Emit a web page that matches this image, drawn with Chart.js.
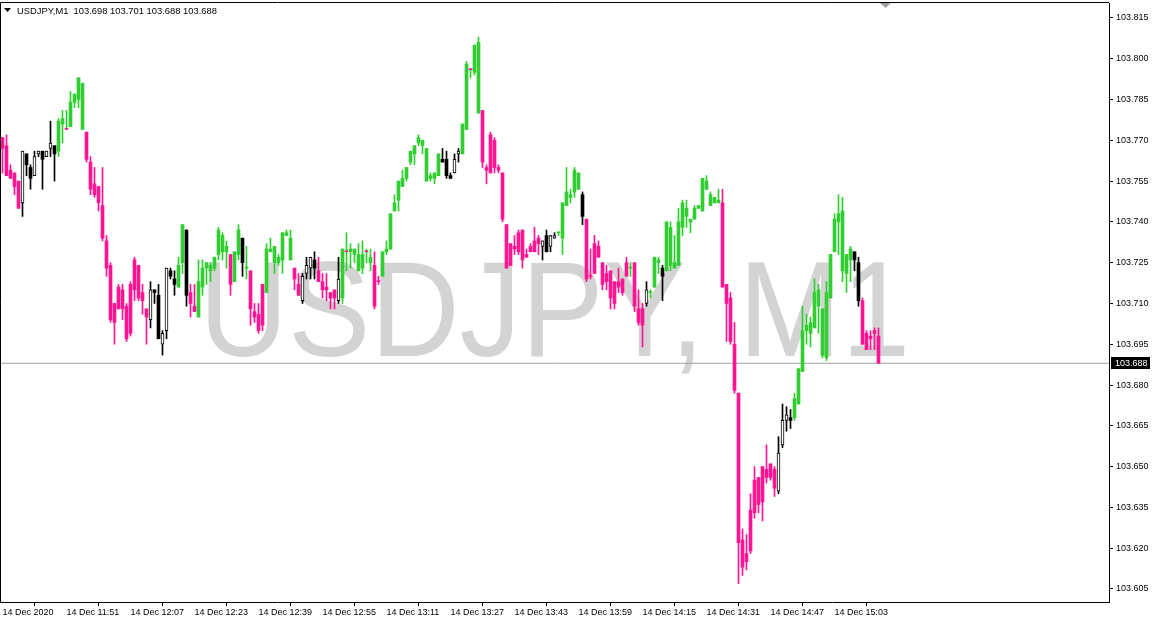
<!DOCTYPE html>
<html>
<head>
<meta charset="utf-8">
<title>USDJPY, M1</title>
<script src="https://cdn.jsdelivr.net/npm/chart.js@4.4.0/dist/chart.umd.min.js"></script>
<style>
  html, body { margin: 0; padding: 0; background: #fff; }
</style>
</head>
<body>
<canvas id="chart" width="1153" height="623"></canvas>
<script>
const symbol = 'USDJPY, M1';
const header = 'USDJPY,M1  103.698 103.701 103.688 103.688';
const lastPrice = 103.688;

const timeLabels = [
  '14 Dec 2020', '14 Dec 11:51', '14 Dec 12:07', '14 Dec 12:23', '14 Dec 12:39',
  '14 Dec 12:55', '14 Dec 13:11', '14 Dec 13:27', '14 Dec 13:43', '14 Dec 13:59',
  '14 Dec 14:15', '14 Dec 14:31', '14 Dec 14:47', '14 Dec 15:03',
];
const priceTicks = [
  103.605, 103.62, 103.635, 103.65, 103.665, 103.68, 103.695, 103.71,
  103.725, 103.74, 103.755, 103.77, 103.785, 103.8, 103.815,
];

// one bar per minute
const open = [
  103.771, 103.768, 103.759, 103.758, 103.755, 103.747, 103.765, 103.760, 103.757, 103.765,
  103.766, 103.764, 103.767, 103.768, 103.766, 103.776, 103.774, 103.775, 103.784, 103.785,
  103.774, 103.773, 103.762, 103.754, 103.753, 103.746, 103.733, 103.724, 103.710, 103.716,
  103.715, 103.709, 103.717, 103.726, 103.724, 103.714, 103.708, 103.704, 103.715, 103.713,
  103.695, 103.700, 103.722, 103.719, 103.716, 103.725, 103.737, 103.714, 103.709, 103.705,
  103.716, 103.723, 103.722, 103.723, 103.728, 103.729, 103.729, 103.728, 103.718, 103.728,
  103.734, 103.723, 103.722, 103.707, 103.706, 103.717, 103.714, 103.729, 103.725, 103.725,
  103.726, 103.735, 103.726, 103.723, 103.717, 103.711, 103.721, 103.723, 103.726, 103.722,
  103.718, 103.716, 103.714, 103.715, 103.711, 103.712, 103.729, 103.729, 103.728, 103.722,
  103.723, 103.729, 103.725, 103.724, 103.718, 103.720, 103.729, 103.730, 103.744, 103.748,
  103.753, 103.756, 103.762, 103.765, 103.769, 103.768, 103.755, 103.756, 103.756, 103.757,
  103.763, 103.763, 103.757, 103.758, 103.765, 103.765, 103.774, 103.796, 103.795, 103.780,
  103.781, 103.760, 103.772, 103.770, 103.760, 103.758, 103.739, 103.732, 103.731, 103.736,
  103.737, 103.728, 103.731, 103.733, 103.734, 103.731, 103.735, 103.731, 103.734, 103.736,
  103.734, 103.746, 103.749, 103.751, 103.752, 103.750, 103.741, 103.720, 103.732, 103.731,
  103.725, 103.721, 103.722, 103.718, 103.718, 103.719, 103.725, 103.723, 103.725, 103.708,
  103.708, 103.710, 103.714, 103.716, 103.725, 103.723, 103.722, 103.724, 103.723, 103.724,
  103.738, 103.742, 103.740, 103.741, 103.745, 103.744, 103.752, 103.746, 103.747, 103.747,
  103.747, 103.717, 103.712, 103.695, 103.677, 103.623, 103.618, 103.634, 103.645, 103.646,
  103.650, 103.649, 103.651, 103.649, 103.641, 103.658, 103.667, 103.668, 103.668, 103.673,
  103.685, 103.700, 103.699, 103.701, 103.709, 103.691, 103.690, 103.712, 103.729, 103.740,
  103.722, 103.721, 103.726, 103.729, 103.725, 103.711, 103.699, 103.698, 103.700, 103.698,
];
const high = [
  103.771, 103.772, 103.761, 103.758, 103.755, 103.766, 103.765, 103.761, 103.766, 103.766,
  103.766, 103.766, 103.777, 103.768, 103.778, 103.781, 103.781, 103.788, 103.787, 103.793,
  103.791, 103.773, 103.764, 103.760, 103.753, 103.760, 103.735, 103.725, 103.710, 103.717,
  103.717, 103.710, 103.718, 103.727, 103.724, 103.717, 103.708, 103.718, 103.715, 103.717,
  103.700, 103.723, 103.723, 103.722, 103.727, 103.739, 103.737, 103.717, 103.717, 103.726,
  103.726, 103.725, 103.725, 103.727, 103.738, 103.736, 103.733, 103.728, 103.729, 103.739,
  103.734, 103.731, 103.722, 103.710, 103.710, 103.717, 103.732, 103.734, 103.731, 103.728,
  103.736, 103.737, 103.737, 103.723, 103.721, 103.721, 103.727, 103.727, 103.729, 103.727,
  103.721, 103.721, 103.714, 103.715, 103.727, 103.730, 103.736, 103.732, 103.730, 103.732,
  103.733, 103.730, 103.730, 103.729, 103.720, 103.729, 103.733, 103.743, 103.750, 103.755,
  103.759, 103.760, 103.766, 103.768, 103.772, 103.770, 103.767, 103.758, 103.758, 103.765,
  103.767, 103.766, 103.758, 103.765, 103.767, 103.776, 103.799, 103.796, 103.805, 103.808,
  103.781, 103.761, 103.773, 103.771, 103.761, 103.758, 103.739, 103.732, 103.735, 103.737,
  103.737, 103.730, 103.732, 103.738, 103.735, 103.733, 103.737, 103.735, 103.736, 103.736,
  103.747, 103.760, 103.752, 103.760, 103.758, 103.751, 103.741, 103.730, 103.735, 103.733,
  103.725, 103.724, 103.722, 103.718, 103.723, 103.719, 103.727, 103.725, 103.725, 103.715,
  103.710, 103.718, 103.715, 103.727, 103.727, 103.724, 103.740, 103.740, 103.735, 103.745,
  103.748, 103.748, 103.741, 103.746, 103.746, 103.756, 103.757, 103.751, 103.749, 103.752,
  103.752, 103.717, 103.714, 103.703, 103.677, 103.627, 103.625, 103.640, 103.650, 103.646,
  103.650, 103.658, 103.651, 103.650, 103.661, 103.673, 103.672, 103.671, 103.677, 103.686,
  103.709, 103.706, 103.705, 103.719, 103.717, 103.708, 103.718, 103.728, 103.743, 103.750,
  103.749, 103.728, 103.731, 103.729, 103.727, 103.712, 103.700, 103.700, 103.701, 103.701,
];
const low = [
  103.758, 103.757, 103.756, 103.750, 103.745, 103.742, 103.757, 103.752, 103.757, 103.764,
  103.752, 103.764, 103.764, 103.755, 103.764, 103.769, 103.774, 103.775, 103.782, 103.782,
  103.774, 103.762, 103.750, 103.749, 103.744, 103.733, 103.720, 103.703, 103.695, 103.708,
  103.704, 103.696, 103.698, 103.711, 103.711, 103.706, 103.695, 103.701, 103.710, 103.697,
  103.691, 103.697, 103.719, 103.713, 103.716, 103.721, 103.709, 103.705, 103.707, 103.705,
  103.713, 103.717, 103.718, 103.722, 103.726, 103.726, 103.723, 103.713, 103.718, 103.726,
  103.720, 103.719, 103.702, 103.703, 103.699, 103.700, 103.714, 103.729, 103.721, 103.724,
  103.721, 103.735, 103.726, 103.715, 103.713, 103.710, 103.719, 103.719, 103.719, 103.718,
  103.712, 103.711, 103.708, 103.708, 103.710, 103.710, 103.722, 103.723, 103.725, 103.722,
  103.721, 103.725, 103.722, 103.708, 103.717, 103.720, 103.728, 103.730, 103.744, 103.744,
  103.753, 103.755, 103.761, 103.761, 103.768, 103.765, 103.755, 103.755, 103.754, 103.757,
  103.762, 103.756, 103.756, 103.758, 103.762, 103.765, 103.774, 103.793, 103.794, 103.780,
  103.760, 103.754, 103.758, 103.758, 103.758, 103.740, 103.723, 103.724, 103.728, 103.728,
  103.723, 103.727, 103.729, 103.729, 103.728, 103.726, 103.729, 103.729, 103.734, 103.735,
  103.728, 103.746, 103.747, 103.749, 103.752, 103.739, 103.718, 103.719, 103.721, 103.727,
  103.715, 103.715, 103.708, 103.708, 103.714, 103.713, 103.720, 103.720, 103.707, 103.702,
  103.694, 103.709, 103.712, 103.716, 103.721, 103.711, 103.722, 103.722, 103.723, 103.724,
  103.735, 103.738, 103.736, 103.741, 103.745, 103.744, 103.752, 103.746, 103.747, 103.747,
  103.716, 103.696, 103.695, 103.677, 103.607, 103.610, 103.612, 103.618, 103.631, 103.633,
  103.630, 103.644, 103.645, 103.639, 103.640, 103.657, 103.663, 103.664, 103.667, 103.673,
  103.685, 103.695, 103.694, 103.701, 103.699, 103.690, 103.689, 103.712, 103.729, 103.728,
  103.718, 103.714, 103.718, 103.722, 103.709, 103.695, 103.693, 103.693, 103.693, 103.688,
];
const close = [
  103.767, 103.757, 103.756, 103.753, 103.745, 103.766, 103.761, 103.756, 103.764, 103.766,
  103.763, 103.766, 103.769, 103.765, 103.777, 103.778, 103.774, 103.784, 103.787, 103.793,
  103.791, 103.763, 103.752, 103.750, 103.747, 103.734, 103.723, 103.704, 103.703, 103.708,
  103.708, 103.697, 103.699, 103.715, 103.712, 103.711, 103.705, 103.715, 103.714, 103.697,
  103.699, 103.723, 103.720, 103.717, 103.724, 103.739, 103.713, 103.710, 103.707, 103.718,
  103.723, 103.725, 103.724, 103.727, 103.737, 103.735, 103.731, 103.717, 103.729, 103.737,
  103.725, 103.723, 103.708, 103.705, 103.700, 103.702, 103.730, 103.730, 103.731, 103.727,
  103.736, 103.736, 103.734, 103.719, 103.713, 103.720, 103.724, 103.727, 103.723, 103.718,
  103.715, 103.715, 103.712, 103.712, 103.719, 103.730, 103.729, 103.730, 103.730, 103.728,
  103.728, 103.729, 103.727, 103.709, 103.718, 103.729, 103.730, 103.743, 103.747, 103.755,
  103.756, 103.760, 103.766, 103.768, 103.771, 103.770, 103.767, 103.757, 103.758, 103.765,
  103.762, 103.757, 103.756, 103.763, 103.766, 103.776, 103.798, 103.796, 103.805, 103.806,
  103.762, 103.759, 103.758, 103.760, 103.759, 103.741, 103.723, 103.724, 103.730, 103.729,
  103.726, 103.727, 103.729, 103.729, 103.732, 103.733, 103.729, 103.735, 103.735, 103.736,
  103.747, 103.751, 103.750, 103.759, 103.758, 103.742, 103.719, 103.720, 103.721, 103.727,
  103.717, 103.718, 103.712, 103.710, 103.716, 103.714, 103.720, 103.723, 103.709, 103.703,
  103.702, 103.715, 103.714, 103.727, 103.726, 103.720, 103.740, 103.738, 103.725, 103.740,
  103.747, 103.745, 103.741, 103.745, 103.746, 103.756, 103.755, 103.750, 103.749, 103.748,
  103.716, 103.710, 103.696, 103.678, 103.622, 103.613, 103.615, 103.619, 103.633, 103.636,
  103.637, 103.646, 103.646, 103.642, 103.655, 103.667, 103.669, 103.667, 103.675, 103.686,
  103.700, 103.702, 103.703, 103.714, 103.715, 103.708, 103.714, 103.728, 103.741, 103.743,
  103.744, 103.728, 103.730, 103.726, 103.711, 103.695, 103.693, 103.697, 103.699, 103.688,
];
// G up, R down, W hollow black, B solid black, D doji (pink/green), g doji green
const kinds = (
  'RRRRR' + 'WBBWWBWWB' + 'GG' + 'D' + 'GGGG' + 'RRRRRRRRRRRRRRRR' + 'WBBWWBB' +
  'GG' + 'B' + 'RR' + 'GGGGGGGG' + 'R' + 'GG' + 'B' + 'g' + 'RRRR' + 'GGGGGGG' +
  'RR' + 'WWWB' + 'RRRRR' + 'W' + 'G' + 'D' + 'GGGG' + 'D' + 'G' + 'RR' +
  'GGGGGGGGGGGGGGG' + 'BBB' + 'WW' + 'GG' + 'D' + 'GG' + 'RRRRRRRRRRRRRRR' +
  'WBWW' + 'g' + 'GGGGG' + 'B' + 'RRRRRRRRRRR' + 'g' + 'RRR' + 'W' + 'g' + 'GG' +
  'B' + 'GGGGGGGGGGGGGG' + 'RRRRRRRRRRRRRR' + 'WWW' + 'B' + 'GGGGGGGGGGGGGGG' +
  'BB' + 'RRRRR'
).split('');

const GREEN = '#32cd32';
const PINK = '#ff1493';
const bodyFill = { G: GREEN, g: GREEN, R: PINK, D: PINK, W: '#ffffff', B: '#000000' };
const wickFill = { G: GREEN, g: GREEN, R: PINK, D: GREEN, W: '#000000', B: '#000000' };

const xMin = -0.625;
const xMax = 276.625;
const yMin = 103.6002;
const yMax = 103.8205;
const barsPerLabel = 16;
const axisFont = { family: '"Liberation Sans", Arial, sans-serif', size: 9 };

const decor = {
  id: 'decor',
  beforeDatasetsDraw(chart) {
    const { ctx, chartArea } = chart;
    ctx.save();
    ctx.font = '136px "Liberation Sans", Arial, sans-serif';
    const m = ctx.measureText(symbol);
    const w = m.actualBoundingBoxLeft + m.actualBoundingBoxRight;
    ctx.translate((chartArea.left + chartArea.right) / 2, 356);
    ctx.scale(696 / w, 1);
    ctx.fillStyle = '#d3d3d3';
    ctx.textAlign = 'center';
    ctx.textBaseline = 'alphabetic';
    ctx.fillText(symbol, 0, 0);
    ctx.restore();
  },
  afterDraw(chart) {
    const { ctx, chartArea } = chart;
    ctx.save();
    ctx.strokeStyle = '#000';
    ctx.lineWidth = 1;
    ctx.beginPath();
    ctx.moveTo(0.5, chartArea.bottom);
    ctx.lineTo(0.5, chartArea.top - 0.5);
    ctx.lineTo(chartArea.right, chartArea.top - 0.5);
    ctx.stroke();

    // header
    ctx.fillStyle = '#000';
    ctx.beginPath();
    ctx.moveTo(4, 8);
    ctx.lineTo(11, 8);
    ctx.lineTo(7.5, 12);
    ctx.closePath();
    ctx.fill();
    ctx.font = '9.4px "Liberation Sans", Arial, sans-serif';
    ctx.textBaseline = 'alphabetic';
    ctx.fillText(header, 17, 14);

    // chart shift marker
    ctx.fillStyle = '#a0a0a0';
    ctx.beginPath();
    ctx.moveTo(880, 3);
    ctx.lineTo(891, 3);
    ctx.lineTo(885.5, 8);
    ctx.closePath();
    ctx.fill();

    // bid label
    const y = Math.round(chart.scales.y.getPixelForValue(lastPrice));
    ctx.fillStyle = '#000';
    ctx.fillRect(chartArea.right + 2, y - 6, 39, 12);
    ctx.fillStyle = '#fff';
    ctx.font = '9px "Liberation Sans", Arial, sans-serif';
    ctx.textBaseline = 'middle';
    ctx.fillText(lastPrice.toFixed(3), chartArea.right + 6, y + 0.5);
    ctx.restore();
  },
};

new Chart(document.getElementById('chart'), {
  type: 'bar',
  data: {
    datasets: [
      {
        label: 'bid',
        type: 'line',
        data: [{ x: xMin, y: lastPrice }, { x: xMax, y: lastPrice }],
        borderColor: '#a0a0a0',
        borderWidth: 1,
        pointRadius: 0,
        order: 3,
      },
      {
        label: 'wicks',
        data: low.map((l, i) => ({ x: i, y: [l, high[i]] })),
        backgroundColor: kinds.map((k) => wickFill[k]),
        barThickness: 1,
        grouped: false,
        order: 2,
      },
      {
        label: 'bodies',
        data: open.map((o, i) => ({ x: i, y: [o, close[i]] })),
        backgroundColor: kinds.map((k) => bodyFill[k]),
        borderColor: '#000',
        borderWidth: kinds.map((k) => (k === 'W' ? 1 : 0)),
        borderSkipped: false,
        minBarLength: 1,
        barThickness: 3,
        grouped: false,
        order: 1,
      },
    ],
  },
  options: {
    responsive: false,
    animation: false,
    events: [],
    layout: { padding: { top: 3, left: 0, right: 0, bottom: 0 } },
    plugins: {
      legend: { display: false },
      tooltip: { enabled: false },
    },
    scales: {
      x: {
        type: 'linear',
        min: xMin,
        max: xMax,
        offset: false,
        afterBuildTicks(scale) {
          scale.ticks = timeLabels.map((t, k) => ({ value: k * barsPerLabel }));
        },
        afterFit(scale) {
          scale.height = 21;
          scale.paddingLeft = 0;
          scale.paddingRight = 0;
        },
        grid: { drawOnChartArea: false, tickLength: 4, color: '#000' },
        border: { display: true, color: '#000' },
        ticks: {
          autoSkip: false,
          maxRotation: 0,
          align: 'start',
          padding: 1,
          color: '#000',
          font: axisFont,
          callback: (value, index) => timeLabels[index],
        },
      },
      y: {
        position: 'right',
        min: yMin,
        max: yMax,
        afterBuildTicks(scale) {
          scale.ticks = priceTicks.map((v) => ({ value: v }));
        },
        afterFit(scale) {
          scale.width = 44;
          scale.paddingTop = 0;
          scale.paddingBottom = 0;
        },
        grid: { drawOnChartArea: false, tickLength: 4, color: '#000' },
        border: { display: true, color: '#000' },
        ticks: {
          padding: 3,
          color: '#000',
          font: axisFont,
          callback: (value) => value.toFixed(3),
        },
      },
    },
  },
  plugins: [decor],
});
</script>
</body>
</html>
